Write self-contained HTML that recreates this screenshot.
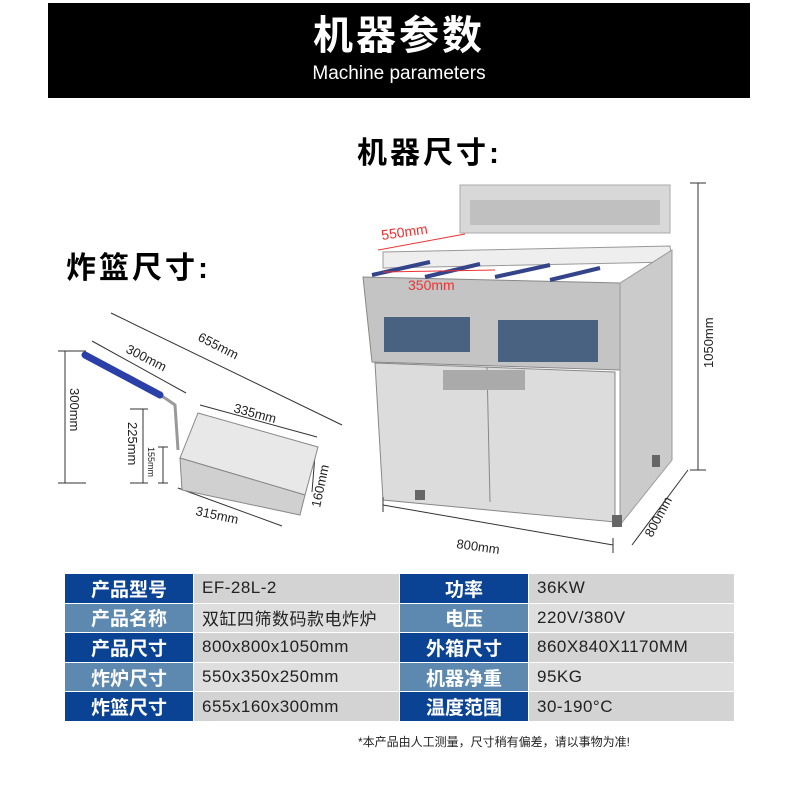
<!DOCTYPE html>
<html><head><meta charset="utf-8"><style>
body{margin:0;width:800px;height:800px;background:#fff;overflow:hidden;position:relative;font-family:"Liberation Sans","Noto Sans CJK SC",sans-serif}
.hd{position:absolute;left:48px;top:3px;width:702px;height:95px;background:#000;color:#fff;text-align:center}
.hd .t{font-size:40px;font-weight:bold;margin-top:10px;letter-spacing:3px;line-height:46px}
.hd .s{font-size:19px;margin-top:4px}
.tt{position:absolute;font-weight:bold;font-size:30px;letter-spacing:3px}
table{position:absolute;left:64px;top:573px;border-collapse:collapse;font-size:17px}
td{height:28.6px;padding:0;border:1.5px solid #fff}
.l{background:#0b4394;color:#fff;text-align:center;font-weight:bold;font-size:19px;width:128px}
.l2{background:#5d89b0}
.v{background:#d3d3d3;color:#222;padding-left:8px;width:197px;letter-spacing:.5px}
.v2{background:#dedede}
.note{position:absolute;left:358px;top:733px;font-size:12px;color:#222}
</style></head><body>
<div class="hd"><div class="t">机器参数</div><div class="s">Machine parameters</div></div>
<div class="tt" style="left:357px;top:128px">机器尺寸:</div>
<div class="tt" style="left:66px;top:243px">炸篮尺寸:</div>
<svg width="800" height="800" style="position:absolute;left:0;top:0" font-family="Liberation Sans" font-size="13" fill="#222">
<rect x="460" y="185" width="210" height="48" fill="#d8d8d8" stroke="#aaa"/>
<rect x="470" y="200" width="190" height="25" fill="#c0c0c0"/>
<polygon points="383,252 670,246 672,262 383,268" fill="#eee" stroke="#999"/>
<polygon points="363,277 620,283 620,370 372,362" fill="#c4c4c4" stroke="#888"/>
<polygon points="620,283 672,250 672,460 620,525" fill="#cbcbcb" stroke="#999"/>
<rect x="384" y="317" width="86" height="35" fill="#4a6282"/>
<rect x="498" y="320" width="100" height="42" fill="#4a6282"/>
<polygon points="375,363 615,372 615,522 383,500" fill="#dcdcdc" stroke="#888"/>
<line x1="487" y1="367" x2="490" y2="502" stroke="#888"/>
<rect x="443" y="370" width="82" height="20" fill="#aaa"/>
<rect x="415" y="490" width="10" height="10" fill="#666"/><rect x="612" y="515" width="10" height="12" fill="#666"/><rect x="652" y="455" width="8" height="12" fill="#666"/>
<g stroke="#33448a" stroke-width="4" fill="none"><line x1="372" y1="275" x2="430" y2="262"/><line x1="425" y1="277" x2="480" y2="264"/><line x1="495" y1="277" x2="550" y2="265"/><line x1="550" y1="280" x2="600" y2="268"/></g>
<g stroke="#e33" fill="none"><line x1="378" y1="250" x2="465" y2="234"/><line x1="383" y1="272" x2="495" y2="270"/></g>
<text x="382" y="240" fill="#e33" font-size="14" transform="rotate(-8 382 240)">550mm</text>
<text x="408" y="290" fill="#e33" font-size="14">350mm</text>
<g stroke="#333" fill="none"><line x1="698" y1="183" x2="698" y2="470"/><line x1="690" y1="183" x2="706" y2="183"/><line x1="690" y1="470" x2="706" y2="470"/>
<line x1="383" y1="505" x2="613" y2="545"/><line x1="383" y1="497" x2="383" y2="512"/><line x1="613" y1="538" x2="613" y2="553"/>
<line x1="632" y1="545" x2="688" y2="470"/></g>
<text x="713" y="368" transform="rotate(-90 713 368)">1050mm</text>
<text x="456" y="548" transform="rotate(8 456 548)">800mm</text>
<text x="652" y="538" transform="rotate(-62 652 538)">800mm</text>
<g stroke="#333" fill="none">
<line x1="111" y1="313" x2="342" y2="425"/><line x1="92" y1="341" x2="186" y2="393"/>
<line x1="65" y1="351" x2="65" y2="483"/><line x1="58" y1="351" x2="86" y2="351"/><line x1="58" y1="483" x2="86" y2="483"/>
<line x1="143" y1="409" x2="143" y2="483"/><line x1="130" y1="409" x2="148" y2="409"/><line x1="130" y1="483" x2="148" y2="483"/>
<line x1="163" y1="447" x2="163" y2="483"/><line x1="158" y1="447" x2="168" y2="447"/><line x1="158" y1="483" x2="168" y2="483"/>
<line x1="200" y1="405" x2="317" y2="437"/><line x1="178" y1="488" x2="282" y2="526"/><line x1="315" y1="455" x2="312" y2="492"/>
</g>
<polyline points="85,355 165,398 175,405 178,450" stroke="#999" stroke-width="3" fill="none"/>
<line x1="85" y1="355" x2="160" y2="395" stroke="#2a3fa8" stroke-width="7" stroke-linecap="round"/>
<polygon points="198,413 318,447 305,495 180,458" fill="#e8e8e8" stroke="#888"/>
<polygon points="180,458 305,495 300,515 182,490" fill="#d0d0d0" stroke="#888"/>
<text x="125" y="352" transform="rotate(27 125 352)">300mm</text>
<text x="197" y="340" transform="rotate(27 197 340)">655mm</text>
<text x="233" y="412" transform="rotate(15 233 412)">335mm</text>
<text x="195" y="515" transform="rotate(12 195 515)">315mm</text>
<text x="70" y="388" transform="rotate(90 70 388)">300mm</text>
<text x="128" y="422" transform="rotate(90 128 422)">225mm</text>
<text x="148" y="447" font-size="9" transform="rotate(90 148 447)">155mm</text>
<text x="320" y="508" transform="rotate(-78 320 508)">160mm</text>
</svg>
<table>
<tr><td class="l">产品型号</td><td class="v">EF-28L-2</td><td class="l">功率</td><td class="v">36KW</td></tr>
<tr><td class="l l2">产品名称</td><td class="v v2">双缸四筛数码款电炸炉</td><td class="l l2">电压</td><td class="v v2">220V/380V</td></tr>
<tr><td class="l">产品尺寸</td><td class="v">800x800x1050mm</td><td class="l">外箱尺寸</td><td class="v">860X840X1170MM</td></tr>
<tr><td class="l l2">炸炉尺寸</td><td class="v v2">550x350x250mm</td><td class="l l2">机器净重</td><td class="v v2">95KG</td></tr>
<tr><td class="l">炸篮尺寸</td><td class="v">655x160x300mm</td><td class="l">温度范围</td><td class="v">30-190°C</td></tr>
</table>
<div class="note">*本产品由人工测量，尺寸稍有偏差，请以事物为准!</div>
</body></html>
